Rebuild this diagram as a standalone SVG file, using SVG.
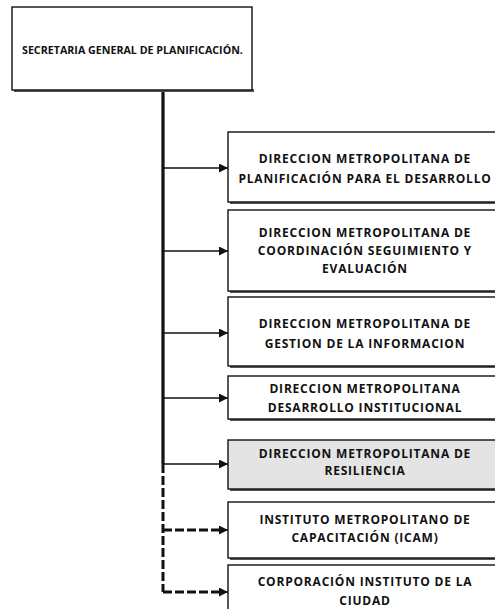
<svg xmlns="http://www.w3.org/2000/svg" width="495" height="609" viewBox="0 0 495 609">
<style>
.box{fill:#fff;stroke:#111;stroke-width:1.4}
.gray{fill:#e4e4e4}
.sh{fill:#555}
.t{font-family:"Open Sans","Liberation Sans",sans-serif;font-weight:700;font-size:12px;letter-spacing:0.8px;fill:#111;text-anchor:middle;dominant-baseline:central}
.tl{text-anchor:start;font-size:10.7px;letter-spacing:0px}
.ln{stroke:#111;stroke-width:1.6;fill:none}
.dl{stroke:#111;stroke-width:3;fill:none;stroke-dasharray:9 3}
</style>
<defs>
<marker id="ah" viewBox="0 0 10 10" refX="10" refY="5" markerWidth="10" markerHeight="9" markerUnits="userSpaceOnUse" orient="auto">
<path d="M0,0 L10,5 L0,10 Z" fill="#111"/>
</marker>
</defs>
<rect width="495" height="609" fill="#fff"/>
<g id="connectors">
<path class="ln" d="M163,90 V464" style="stroke-width:3.2"/>
<path class="dl" d="M163,464 V592"/>
<path class="ln" d="M163,168 H228" marker-end="url(#ah)"/>
<path class="ln" d="M163,251 H228" marker-end="url(#ah)"/>
<path class="ln" d="M163,333 H228" marker-end="url(#ah)"/>
<path class="ln" d="M163,398 H228" marker-end="url(#ah)"/>
<path class="ln" d="M163,464 H228" marker-end="url(#ah)"/>
<path class="dl" d="M163,530 H220"/>
<path class="ln" d="M218,530 H228" marker-end="url(#ah)"/>
<path class="dl" d="M163,592 H220"/>
<path class="ln" d="M218,592 H228" marker-end="url(#ah)"/>
</g>
<g id="n0">
<rect class="sh" x="14" y="89" width="240" height="3"/>
<rect class="box" x="12" y="7" width="240" height="83"/>
<text class="t tl" x="22" y="50">SECRETARIA GENERAL DE PLANIFICACIÓN.</text>
</g>
<g id="n1">
<rect class="sh" x="230" y="201" width="270" height="3"/>
<rect class="box" x="228" y="132" width="272" height="70"/>
<text class="t" x="365" y="158">DIRECCION METROPOLITANA DE</text>
<text class="t" x="365" y="178">PLANIFICACIÓN PARA EL DESARROLLO</text>
</g>
<g id="n2">
<rect class="sh" x="230" y="290" width="270" height="3"/>
<rect class="box" x="228" y="210" width="272" height="81"/>
<text class="t" x="365" y="232">DIRECCION METROPOLITANA DE</text>
<text class="t" x="365" y="250">COORDINACIÓN SEGUIMIENTO Y</text>
<text class="t" x="365" y="268">EVALUACIÓN</text>
</g>
<g id="n3">
<rect class="sh" x="230" y="365" width="270" height="3"/>
<rect class="box" x="228" y="297" width="272" height="69"/>
<text class="t" x="365" y="323">DIRECCION METROPOLITANA DE</text>
<text class="t" x="365" y="343">GESTION DE LA INFORMACION</text>
</g>
<g id="n4">
<rect class="sh" x="230" y="418" width="270" height="3"/>
<rect class="box" x="228" y="376" width="272" height="43"/>
<text class="t" x="365" y="388">DIRECCION METROPOLITANA</text>
<text class="t" x="365" y="407">DESARROLLO INSTITUCIONAL</text>
</g>
<g id="n5">
<rect class="sh" x="230" y="488" width="270" height="3"/>
<rect class="box gray" x="228" y="440" width="272" height="49"/>
<text class="t" x="365" y="453">DIRECCION METROPOLITANA DE</text>
<text class="t" x="365" y="470">RESILIENCIA</text>
</g>
<g id="n6">
<rect class="sh" x="230" y="557" width="270" height="3"/>
<rect class="box" x="228" y="502" width="272" height="56"/>
<text class="t" x="365" y="519">INSTITUTO METROPOLITANO DE</text>
<text class="t" x="365" y="537">CAPACITACIÓN (ICAM)</text>
</g>
<g id="n7">
<rect class="box" x="228" y="565" width="272" height="60"/>
<text class="t" x="365" y="581">CORPORACIÓN INSTITUTO DE LA</text>
<text class="t" x="365" y="600">CIUDAD</text>
</g>
</svg>
